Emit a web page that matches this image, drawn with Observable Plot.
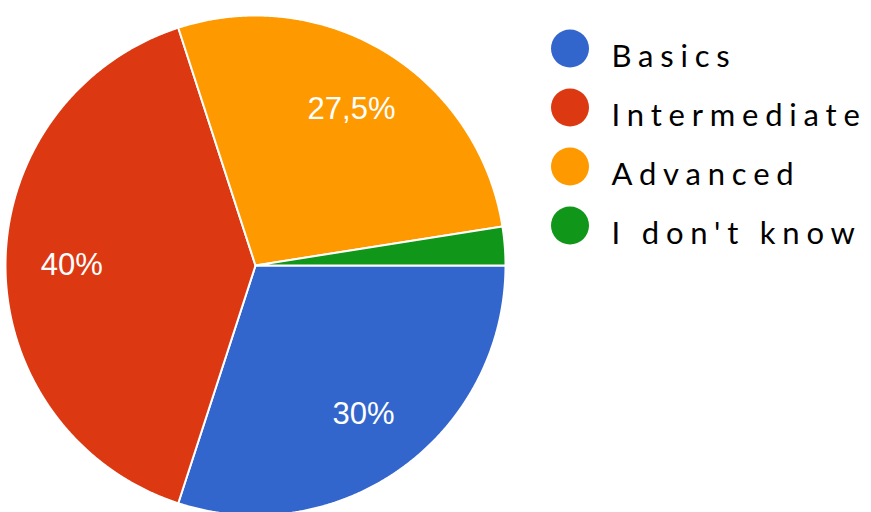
<!DOCTYPE html>
<html>
<head>
<meta charset="utf-8">
<script src="https://cdn.jsdelivr.net/npm/d3@7"></script>
<script src="https://cdn.jsdelivr.net/npm/@observablehq/plot@0.6"></script>
<style>
  html, body { margin: 0; padding: 0; background: #fff; overflow: hidden; }
</style>
</head>
<body>
<div id="chart"></div>
<script>
// Data
const categories = ["Basics", "Intermediate", "Advanced", "I don't know"];
const values = [30, 40, 27.5, 2.5];
const sliceLabels = ["30%", "40%", "27,5%", ""];
const colors = ["#3366cc", "#dc3912", "#ff9900", "#109618"];

// Pie layout (clockwise from 3 o'clock)
const arcs = d3.pie().sort(null).startAngle(Math.PI / 2).endAngle(Math.PI / 2 + 2 * Math.PI)(values);

const polyPts = [];
arcs.forEach((a, i) => {
  const cat = categories[i];
  polyPts.push({cat, u: 0, v: 0});
  const n = Math.max(2, Math.ceil((a.endAngle - a.startAngle) / (Math.PI / 720)));
  for (let k = 0; k <= n; k++) {
    const t = a.startAngle + (a.endAngle - a.startAngle) * k / n;
    polyPts.push({cat, u: Math.sin(t), v: Math.cos(t)});
  }
  polyPts.push({cat, u: 0, v: 0});
});

const labelR = 0.735;
const labelRows = arcs.map((a, i) => {
  const m = (a.startAngle + a.endAngle) / 2;
  return {label: sliceLabels[i], u: labelR * Math.sin(m), v: labelR * Math.cos(m)};
}).filter(d => d.label);

const legendRows = categories.map((c, i) => ({cat: c, u: 1.258, tu: 1.424, v: 0.868 - i * 0.236}));

const plot = Plot.plot({
  width: 871,
  height: 512,
  margin: 0,
  x: {domain: [-1, 1], range: [5, 505], axis: null},
  y: {domain: [-1, 1], range: [515, 15], axis: null},
  color: {domain: categories, range: colors},
  marks: [
    Plot.line(polyPts, {x: "u", y: "v", z: "cat", fill: "cat", stroke: "white", strokeWidth: 2, strokeLinejoin: "round", curve: "linear"}),
    Plot.text(labelRows, {x: "u", y: "v", text: "label", fill: "white", fontSize: 31, fontFamily: "Liberation Sans, Arial, sans-serif"}),
    Plot.dot(legendRows, {x: "u", y: "v", r: 19, fill: "cat", stroke: null}),
    Plot.text(legendRows, {x: "tu", y: "v", text: "cat", textAnchor: "start", dy: 9, fontSize: 31, fill: "#000", fontFamily: "Lato, sans-serif"})
  ]
});
document.getElementById("chart").appendChild(plot);
d3.select(plot).selectAll('g[font-family^="Lato"]').attr("letter-spacing", "6.8px");
</script>
</body>
</html>
